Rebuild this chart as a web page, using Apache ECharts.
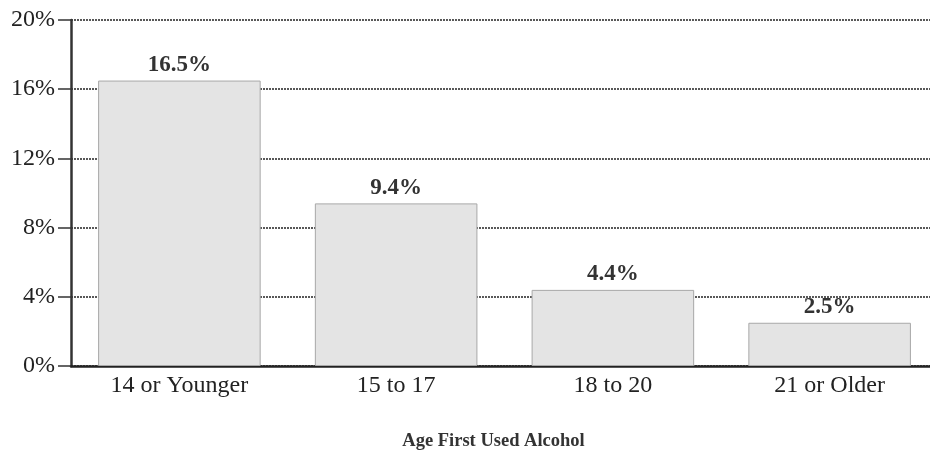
<!DOCTYPE html>
<html>
<head>
<meta charset="utf-8">
<script src="https://cdn.jsdelivr.net/npm/echarts@6/dist/echarts.min.js"></script>
<style>
  html, body { margin: 0; padding: 0; background: #fff; }
  #chart { width: 930px; height: 451px; }
</style>
</head>
<body>
<div id="chart"></div>
<script>
// data
var categories = ['14 or Younger', '15 to 17', '18 to 20', '21 or Older'];
var values = [16.5, 9.4, 4.4, 2.5];
var axisTitle = 'Age First Used Alcohol';

var chart = echarts.init(document.getElementById('chart'));

var font = '"Liberation Serif", "DejaVu Serif", serif';

chart.setOption({
  animation: false,
  grid: { left: 71, right: -8, top: 20, bottom: 85, containLabel: false, outerBoundsMode: 'none' },
  xAxis: {
    type: 'category',
    data: categories,
    name: axisTitle,
    nameLocation: 'middle',
    nameGap: 66,
    nameTextStyle: { fontFamily: font, fontSize: 18.5, fontWeight: 'bold', color: '#333', padding: [0, 22, 0, 0] },
    axisLine: { lineStyle: { color: '#222', width: 2.5 } },
    axisTick: { show: false },
    axisLabel: { fontFamily: font, fontSize: 24, color: '#222', margin: 8 }
  },
  yAxis: {
    type: 'value',
    min: 0,
    max: 20,
    interval: 4,
    axisLine: { show: true, lineStyle: { color: '#333', width: 2.5 } },
    axisTick: { show: true, length: 13, lineStyle: { color: '#333', width: 1.5 } },
    axisLabel: { formatter: '{value}%', fontFamily: font, fontSize: 24, color: '#222', margin: 16 },
    splitLine: { lineStyle: { color: '#222', type: [2, 1], width: 1.5 } }
  },
  series: [{
    type: 'bar',
    data: values,
    barCategoryGap: '25%',
    itemStyle: { color: '#e4e4e4', borderColor: '#a8a8a8', borderWidth: 1 },
    label: {
      show: true,
      position: 'top',
      distance: 4,
      formatter: '{c}%',
      fontFamily: font,
      fontSize: 23,
      fontWeight: 'bold',
      color: '#333'
    }
  }]
});
</script>
</body>
</html>
